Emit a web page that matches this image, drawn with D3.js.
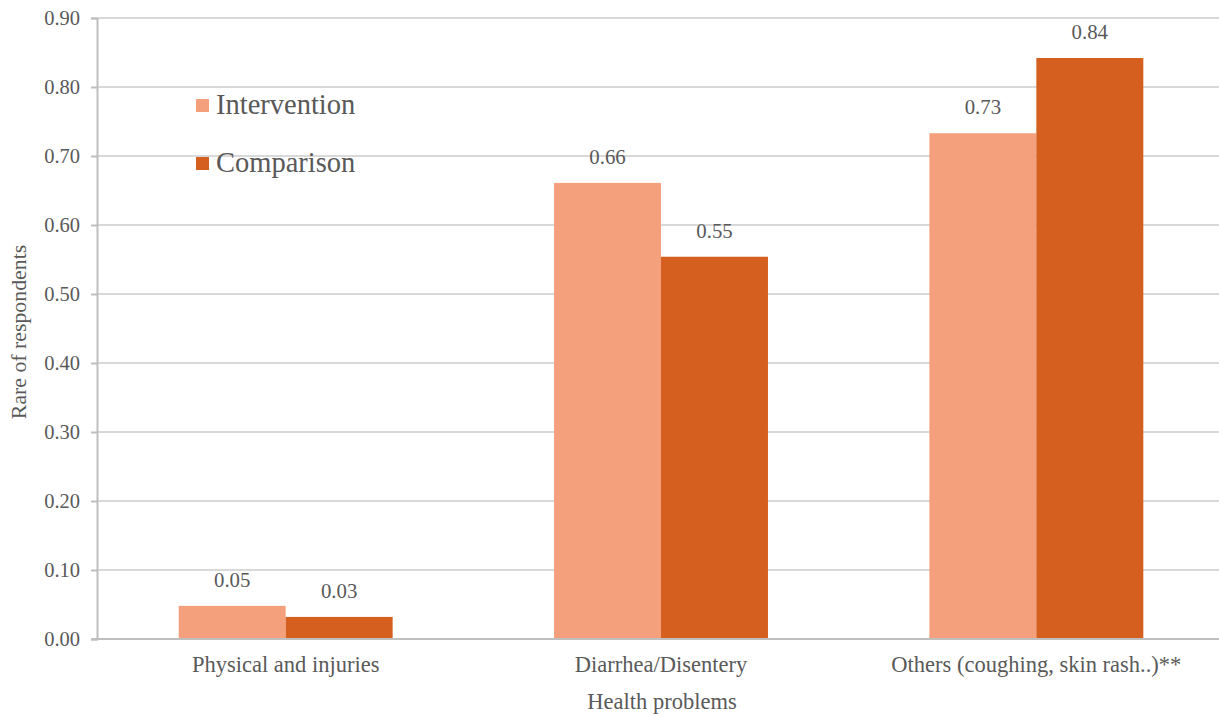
<!DOCTYPE html>
<html><head><meta charset="utf-8">
<script src="https://cdn.jsdelivr.net/npm/d3@7"></script>
<style>body{margin:0;background:#fff;} svg text{font-family:"Liberation Serif","Times New Roman",serif !important;fill:#595959;}</style>
</head><body>
<svg id="c" width="1219" height="717"></svg>
<script>
const categories = ["Physical and injuries", "Diarrhea/Disentery", "Others (coughing, skin rash..)**"];
const seriesNames = ["Intervention", "Comparison"];
const intervention = [0.048, 0.661, 0.733];
const comparison = [0.032, 0.554, 0.842];
const yTicks = [0, 0.1, 0.2, 0.3, 0.4, 0.5, 0.6, 0.7, 0.8, 0.9];
const colors = ["#F5A07D", "#D45F1F"];

const svg = d3.select("#c");
const x0 = d3.scaleBand().domain(categories).range([98, 1224]).paddingInner(0.43).paddingOuter(0.215);
const x1 = d3.scaleBand().domain(seriesNames).range([0, x0.bandwidth()]);
const y = d3.scaleLinear().domain([0, 0.9]).range([639, 18]);

// gridlines
svg.append("g").selectAll("line").data(yTicks.filter(d=>d>0)).join("line")
  .attr("x1", 98).attr("x2", 1219).attr("y1", d=>y(d)).attr("y2", d=>y(d))
  .attr("stroke", "#d9d9d9").attr("stroke-width", 2);

// y axis
const yAxis = d3.axisLeft(y).tickValues(yTicks).tickFormat(d3.format(".2f")).tickSize(6).tickPadding(11);
const ya = svg.append("g").attr("transform", "translate(97,0)").call(yAxis).attr("font-family", null);
ya.select(".domain").attr("stroke", "#bfbfbf").attr("stroke-width", 2);
ya.selectAll(".tick line").attr("stroke", "#bfbfbf").attr("stroke-width", 2);
ya.selectAll("text").attr("font-size", 20.5).attr("fill", "#595959");

// bars
const data = categories.map((c,i)=>({cat:c, vals:[intervention[i], comparison[i]]}));
const g = svg.append("g").selectAll("g").data(data).join("g").attr("transform", d=>`translate(${x0(d.cat)},0)`);
g.selectAll("rect").data(d=>d.vals.map((v,j)=>({s:seriesNames[j], v, j}))).join("rect")
  .attr("x", d=>x1(d.s)).attr("width", x1.bandwidth())
  .attr("y", d=>y(d.v)).attr("height", d=>y(0)-y(d.v)).attr("fill", d=>colors[d.j]);
g.selectAll("text.val").data(d=>d.vals.map((v,j)=>({s:seriesNames[j], v, j}))).join("text")
  .attr("class","val").attr("x", d=>x1(d.s)+x1.bandwidth()/2).attr("y", d=>y(d.v)-19)
  .attr("text-anchor","middle").attr("font-size", 20.8).text(d=>d.v.toFixed(2));

// x axis baseline
const xAxis = d3.axisBottom(x0).tickSize(0).tickPadding(17);
const xa = svg.append("g").attr("transform", "translate(0,639)").call(xAxis).attr("font-family", null);
xa.select(".domain").remove();
svg.append("line").attr("x1", 92).attr("x2", 1219).attr("y1", 639).attr("y2", 639).attr("stroke", "#bfbfbf").attr("stroke-width", 2);
xa.selectAll("text").attr("font-size", 22.5).attr("fill", "#595959");

// axis titles
svg.append("text").attr("x", 662).attr("y", 709).attr("text-anchor","middle").attr("font-size", 22.5).text("Health problems");
svg.append("text").attr("transform", "translate(26,332) rotate(-90)").attr("text-anchor","middle").attr("font-size", 21.8).text("Rare of respondents");

// legend
const lg = svg.append("g").selectAll("g").data(seriesNames).join("g")
  .attr("transform", (d,i)=>`translate(196,${99 + i*58})`);
lg.append("rect").attr("width", 13).attr("height", 13).attr("fill", (d,i)=>colors[i]);
lg.append("text").attr("x", 20).attr("y", 15).attr("font-size", 28.5).text(d=>d);
</script>
</body></html>
